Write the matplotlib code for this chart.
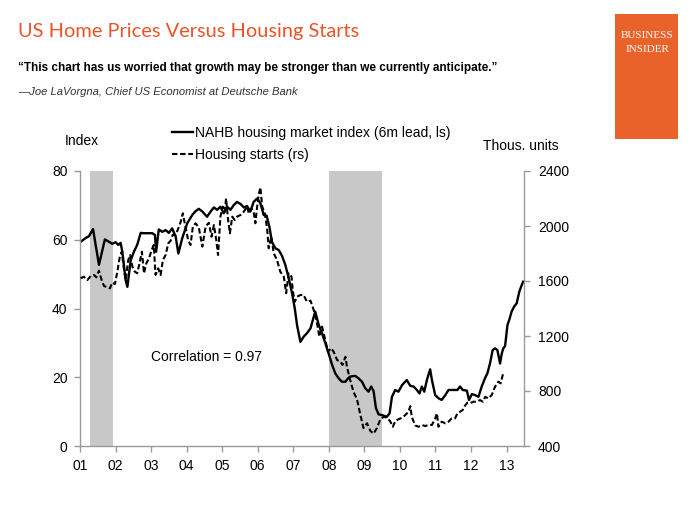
import matplotlib.pyplot as plt
import numpy as np

# months since Jan 2001, NAHB index (6m lead, left scale)
nahb_month = [0.2, 1.9, 3.0, 4.4, 6.4, 8.4, 9.8, 10.9, 12.0, 12.9, 13.7, 14.3, 15.4, 16.0, 17.1,
              18.2, 19.3, 20.5, 21.6, 24.4, 25.3, 25.7, 26.6, 27.8, 28.9, 30.0, 31.1, 32.3, 33.2,
              34.5, 36.2, 37.9, 39.0, 40.1, 41.3, 42.9, 44.1, 45.2, 46.3, 47.4, 48.5, 49.7, 50.8,
              51.9, 53.0, 54.2, 55.3, 56.4, 57.5, 58.6, 59.8, 60.9, 62.0, 63.0, 64.0, 64.8, 66.0,
              67.1, 68.2, 69.3, 70.4, 71.6, 72.5, 73.3, 74.4, 75.5, 76.6, 77.8, 78.9, 79.4, 80.6,
              81.7, 82.8, 83.9, 85.1, 86.2, 87.3, 88.4, 89.6, 90.5, 91.2, 92.9, 94.0, 95.2, 96.3,
              97.4, 98.3, 99.1, 99.9, 100.8, 101.9, 103.6, 104.5, 105.3, 106.4, 107.5, 108.7,
              110.3, 111.5, 112.6, 113.7, 114.6, 115.4, 116.2, 117.1, 118.2, 118.8, 119.9, 121.0,
              122.1, 123.3, 124.4, 126.1, 127.4, 128.3, 129.2, 130.6, 131.3, 132.3, 133.4, 134.5,
              135.6, 136.7, 137.5, 138.4, 139.3, 140.1, 140.9, 141.8, 142.4, 142.9, 143.5, 144.3,
              144.9, 145.7, 146.5, 147.4, 148.3, 149.1, 149.6]
nahb_value = [59.4, 60.5, 61, 63.1, 52.7, 60.1, 59.4, 58.8, 59.3, 58.5, 59.1, 56.5, 48.3, 46.3, 54,
              56.5, 58.5, 62, 61.9, 61.9, 61.4, 56.5, 63, 62.3, 62.8, 62, 63.3, 60.9, 56,
              60.4, 64.8, 67.2, 68.3, 69, 68.2, 66.7, 68.2, 69.4, 68.7, 69.6, 67.7, 69.6, 68.7,
              70.1, 71, 70.4, 69.4, 69.8, 68.2, 71, 72, 70.6, 67.2, 67, 63.5, 59.3, 57.5,
              57, 55.3, 52.7, 49, 44.4, 40, 35, 30.3, 31.8, 32.8, 34.2, 37.6, 39.1, 35.2,
              32.8, 29.9, 27, 23.6, 21.1, 19.7, 18.7, 18.7, 19.7, 20.2, 20.4, 19.7, 18.7, 16.8,
              15.8, 17.3, 16, 11, 9.2, 9, 8.5, 9.5, 14.3, 16.3, 15.8, 17.7,
              19.2, 17.5, 17.3, 16.3, 15.3, 17.3, 15.8, 19.2, 22.3, 19.2, 14.8, 13.9,
              13.4, 14.8, 16.3, 16.3, 16.3, 17.3, 16.3, 16.1, 13.4, 15.1, 14.8, 14.3,
              17.3, 19.7, 21.1, 24, 27.9, 28.4, 27.9, 24, 27, 28.4, 29.1, 35.2,
              36.7, 39.1, 40.5, 41.5, 44.9, 46.8, 47.8]

# months since Jan 2001, housing starts in thousands (right scale)
starts_month = [0.2, 1.3, 2.5, 3.6, 4.7, 5.5, 6.4, 7.3, 8.1, 9.2, 10.1, 10.9, 11.8, 12.6, 13.4,
                14.1, 14.8, 15.4, 16.3, 16.9, 17.7, 18.5, 19.3, 20.1, 20.9, 21.6, 22.4, 23.3,
                24.2, 24.9, 25.5, 26.4, 27.2, 28.0, 28.9, 29.8, 30.6, 31.3, 32.3, 33.2, 34.0,
                34.7, 35.6, 36.5, 37.3, 38.1, 39.0, 40.1, 41.3, 42.4, 43.5, 44.4, 45.2, 46.0,
                46.6, 47.4, 48.2, 48.9, 49.3, 50.0, 50.6, 51.4, 52.2, 53.0, 54.2, 55.3, 56.4,
                57.0, 57.9, 58.6, 59.2, 59.8, 60.3, 60.9, 61.5, 62.4, 63.2, 63.7, 64.6, 65.4,
                66.5, 67.6, 68.8, 69.6, 70.4, 71.4, 71.8, 72.5, 73.3, 74.4, 75.5, 76.6, 77.8,
                78.9, 80.0, 80.8, 81.7, 82.8, 83.7, 84.8, 85.6, 86.8, 87.9, 88.6, 89.6, 90.1,
                91.2, 92.3, 93.5, 94.6, 95.7, 96.9, 98.0, 99.1, 100.2, 101.3, 102.5, 103.6,
                104.7, 105.6, 106.4, 107.5, 108.7, 109.8, 110.9, 111.5, 112.0, 113.1, 114.3,
                115.4, 116.5, 117.6, 118.8, 119.9, 120.5, 121.0, 122.1, 123.3, 124.4, 125.5,
                126.6, 127.4, 128.3, 129.2, 130.0, 130.8, 131.7, 132.8, 133.9, 135.0, 136.0,
                136.8, 137.8, 139.0, 140.1, 141.2, 142.0, 142.7, 143.1]
starts_value = [1620, 1631, 1607, 1636, 1644, 1627, 1675, 1607, 1564, 1554, 1547, 1588, 1578, 1668, 1772,
                1813, 1692, 1607, 1753, 1789, 1704, 1668, 1656, 1729, 1813, 1656, 1729, 1765,
                1825, 1862, 1644, 1692, 1644, 1753, 1789, 1874, 1893, 1935, 1935, 1983, 2031,
                2092, 1995, 1898, 1862, 1995, 2020, 1990, 1850, 1995, 2024, 1922, 2007, 1898,
                1789, 2068, 2141, 2104, 2201, 2044, 1947, 2068, 2044, 2068, 2080, 2104, 2141,
                2092, 2128, 2104, 2020, 2141, 2225, 2281, 2141, 2092, 1971, 1838, 1922, 1801,
                1753, 1668, 1631, 1511, 1656, 1631, 1534, 1449, 1486, 1498, 1498, 1449, 1457,
                1389, 1293, 1195, 1268, 1171, 1086, 1111, 1086, 1025, 1013, 989, 1049, 977,
                880, 795, 740, 630, 530, 565, 510, 490, 529, 589, 613, 605,
                580, 540, 580, 595, 605, 625, 650, 690, 613, 550, 540,
                553, 545, 553, 553, 601, 637, 540, 577, 565, 577, 601,
                601, 637, 649, 662, 695, 715, 712, 722, 722, 734, 722,
                758, 746, 771, 831, 868, 856, 916, 940]

recessions = [(2001.27, 2001.93), (2008.0, 2009.49)]
year_ticks = list(range(2001, 2014))
year_labels = ['%02d' % (y % 100) for y in year_ticks]

orange = '#E9552B'
grey = '#999999'
plt.rcParams['font.family'] = ['Liberation Sans', 'DejaVu Sans']

fig = plt.figure(figsize=(7, 5.25), dpi=100)
ax = fig.add_axes([80 / 700, 1 - 446 / 525, 444 / 700, 275 / 525])
ax2 = ax.twinx()

for a, b in recessions:
    ax.axvspan(a, b, color='#C8C8C8', lw=0, zorder=0)

nx = 2001 + np.array(nahb_month) / 12
sx = 2001 + np.array(starts_month) / 12
l1, = ax.plot(nx, nahb_value, color='black', lw=1.7, label='NAHB housing market index (6m lead, ls)')
l2, = ax2.plot(sx, starts_value, color='black', lw=1.5, dashes=(2.6, 1.3), label='Housing starts (rs)')

ax.set_xlim(2001, 2013.49)
ax.set_ylim(0, 80)
ax2.set_ylim(400, 2400)
ax.set_yticks([0, 20, 40, 60, 80])
ax2.set_yticks([400, 800, 1200, 1600, 2000, 2400])
ax.set_xticks(year_ticks)
ax.set_xticklabels(year_labels)

for a in (ax, ax2):
    a.spines['top'].set_visible(False)
    for s in ('left', 'right', 'bottom'):
        a.spines[s].set_color(grey)
        a.spines[s].set_linewidth(1.0)
    a.tick_params(direction='out', length=4, width=1, color=grey, labelsize=10, labelcolor='black')
ax.spines['right'].set_visible(False)
ax2.spines['left'].set_visible(False)
ax2.spines['bottom'].set_visible(False)
ax.tick_params(axis='x', pad=5)
ax.tick_params(axis='y', pad=5)
ax2.tick_params(axis='y', pad=6)

fig.text(65 / 700, 1 - 141 / 525, 'Index', fontsize=10, va='center')
fig.text(483 / 700, 1 - 146 / 525, 'Thous. units', fontsize=10, va='center')
ax.text(2003.0, 26, 'Correlation = 0.97', fontsize=10, va='center')

fig.legend(handles=[l1, l2], loc='upper left', bbox_to_anchor=(172 / 700, 1 - 126 / 525),
           frameon=False, fontsize=10, handlelength=1.5, handletextpad=0.15,
           labelspacing=0.55, borderpad=0, borderaxespad=0)

fig.text(18 / 700, 1 - 32 / 525, 'US Home Prices Versus Housing Starts', color=orange,
         fontsize=14.4, family='Lato', va='center')
fig.text(18 / 700, 1 - 68 / 525,
         '\u201cThis chart has us worried that growth may be stronger than we currently anticipate.\u201d',
         fontsize=8.45, fontweight='bold', va='center')
fig.text(18 / 700, 1 - 92 / 525, '\u2014Joe LaVorgna, Chief US Economist at Deutsche Bank',
         fontsize=8.1, style='italic', color='#333333', va='center')

# logo box
fig.patches.append(plt.Rectangle((615 / 700, 1 - 139 / 525), 63 / 700, 125 / 525,
                                 transform=fig.transFigure, color='#E8622A', lw=0))
fig.text(647 / 700, 1 - 36 / 525, 'BUSINESS', color='white', fontsize=8,
         family='Liberation Serif', ha='center', va='center')
fig.text(647 / 700, 1 - 50 / 525, 'INSIDER', color='white', fontsize=8,
         family='Liberation Serif', ha='center', va='center')

fig.savefig('out.png', dpi=100)
